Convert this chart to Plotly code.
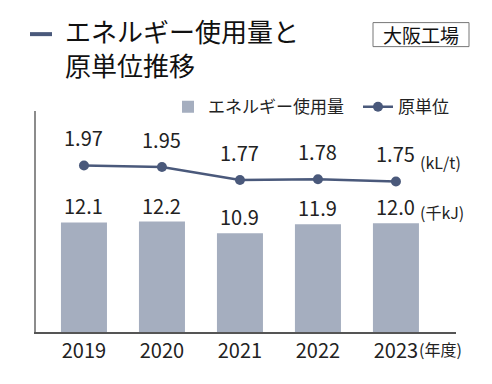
import plotly.graph_objects as go

years = ["2019", "2020", "2021", "2022", "2023"]
energy = [12.1, 12.2, 10.9, 11.9, 12.0]
intensity = [1.97, 1.95, 1.77, 1.78, 1.75]

FONT = "Noto Sans CJK JP"
BAR_COLOR = "#a5aebf"
LINE_COLOR = "#4a597b"

# page has an 8px body margin: plot area spans page x 36..456, y 111..341
def px(x):
    return (x - 36) / 420

def py(y):
    return (341 - y) / 230

fig = go.Figure()
fig.add_trace(go.Bar(
    x=years, y=energy, name="エネルギー使用量",
    marker=dict(color=BAR_COLOR, line=dict(width=0)),
    width=0.59, legend="legend",
))
fig.add_trace(go.Scatter(
    x=years, y=intensity, name="原単位", yaxis="y2",
    mode="lines+markers",
    line=dict(color=LINE_COLOR, width=2.5),
    marker=dict(color=LINE_COLOR, size=10),
    legend="legend2",
))

annotations = []
for i, v in enumerate(energy):
    annotations.append(dict(x=i, y=v, xref="x", yref="y", text=f"{v:.1f}",
                            showarrow=False, yanchor="bottom", yshift=0,
                            font=dict(size=20, color="#222")))
for i, v in enumerate(intensity):
    annotations.append(dict(x=i, y=v, xref="x", yref="y2", text=f"{v:.2f}",
                            showarrow=False, yanchor="bottom", yshift=11,
                            font=dict(size=20, color="#222")))

annotations += [
    dict(x=px(63), y=py(44.5), xref="paper", yref="paper",
         text="エネルギー使用量と<br>原単位推移", showarrow=False,
         xanchor="left", yanchor="middle", align="left",
         font=dict(size=26, color="#111")),
    dict(x=px(421), y=py(31.5), xref="paper", yref="paper",
         text="大阪工場", showarrow=False, xanchor="center", yanchor="middle",
         font=dict(size=19, color="#111")),
    dict(x=px(418), y=py(164), xref="paper", yref="paper",
         text="(kL/t)", showarrow=False, xanchor="left", yanchor="middle",
         font=dict(size=16, color="#222")),
    dict(x=px(418), y=py(216), xref="paper", yref="paper",
         text="(千kJ)", showarrow=False, xanchor="left", yanchor="middle",
         font=dict(size=16, color="#222")),
    dict(x=px(417), y=py(359), xref="paper", yref="paper",
         text="(年度)", showarrow=False, xanchor="left", yanchor="middle",
         font=dict(size=16, color="#222")),
]

shapes = [
    dict(type="line", xref="paper", yref="paper",
         x0=px(30), x1=px(52), y0=py(31), y1=py(31),
         line=dict(color=LINE_COLOR, width=4)),
    dict(type="rect", xref="paper", yref="paper",
         x0=px(373), x1=px(469), y0=py(44), y1=py(19),
         line=dict(color="#777", width=1)),
]

legend_common = dict(orientation="h", xanchor="left", y=py(107), yanchor="middle",
                     font=dict(size=17, color="#222"), bgcolor="rgba(0,0,0,0)")

fig.update_layout(
    width=476, height=368,
    margin=dict(l=28, r=28, t=103, b=35),
    paper_bgcolor="white", plot_bgcolor="white",
    font=dict(family=FONT, color="#222"),
    showlegend=True,
    legend=dict(x=px(168), **legend_common),
    legend2=dict(x=px(358), **legend_common),
    xaxis=dict(type="category", range=[-0.615, 4.77], showline=True,
               linecolor="#555", linewidth=2, ticks="", showgrid=False,
               tickfont=dict(size=20, color="#222")),
    yaxis=dict(range=[0, 24.4], showline=True, linecolor="#8c8c8c", linewidth=2,
               showticklabels=False, ticks="", showgrid=False, zeroline=False),
    yaxis2=dict(range=[-0.325, 2.721], overlaying="y", showline=False,
                showticklabels=False, ticks="", showgrid=False, zeroline=False),
    annotations=annotations, shapes=shapes,
)

fig.write_html("out.html")
